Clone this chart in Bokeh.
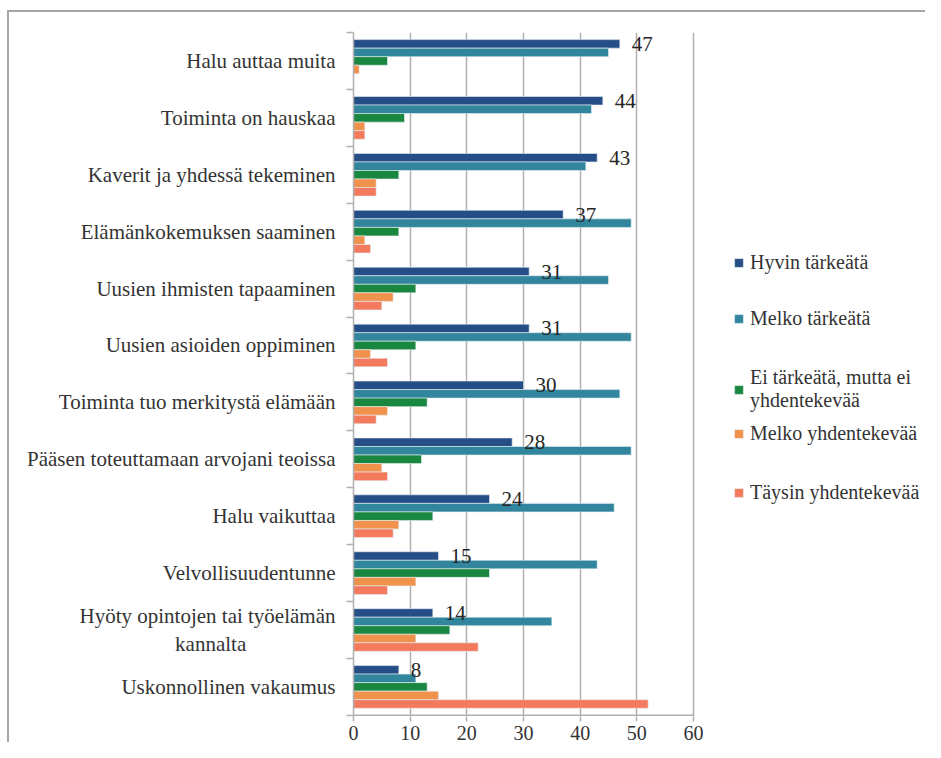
from bokeh.plotting import figure
from bokeh.models import Range1d, FixedTicker, Legend, LegendItem
from bokeh.core.properties import value
from bokeh.embed import file_html
from bokeh.resources import INLINE

categories = [
    "Halu auttaa muita",
    "Toiminta on hauskaa",
    "Kaverit ja yhdessä tekeminen",
    "Elämänkokemuksen saaminen",
    "Uusien ihmisten tapaaminen",
    "Uusien asioiden oppiminen",
    "Toiminta tuo merkitystä elämään",
    "Pääsen toteuttamaan arvojani teoissa",
    "Halu vaikuttaa",
    "Velvollisuudentunne",
    "Hyöty opintojen tai työelämän\nkannalta" + "\u00a0" * 17,
    "Uskonnollinen vakaumus",
]
hyvin = [47, 44, 43, 37, 31, 31, 30, 28, 24, 15, 14, 8]
melko = [45, 42, 41, 49, 45, 49, 47, 49, 46, 43, 35, 11]
ei_tarkea = [6, 9, 8, 8, 11, 11, 13, 12, 14, 24, 17, 13]
melko_yhd = [1, 2, 4, 2, 7, 3, 6, 5, 8, 11, 11, 15]
taysin_yhd = [0, 2, 4, 3, 5, 6, 4, 6, 7, 6, 22, 52]
series_names = ["Hyvin tärkeätä", "Melko tärkeätä", "Ei tärkeätä, mutta ei\nyhdentekevää",
                "Melko yhdentekevää", "Täysin yhdentekevää"]
x_ticks = [0, 10, 20, 30, 40, 50, 60]

colors = ["#264E86", "#31859C", "#1A8741", "#F0914C", "#F37A5C"]
FONT = "Liberation Serif"
TXT = "#333333"
GRID = "#B0B0B0"
BORDER = "#A6A6A6"

W, H = 925, 742
LEFT, TOP, BOTTOM = 353, 32, 26
AXIS_PX = 340  # pixel length of 0..60
x_end = x_ticks[-1] * (W - LEFT) / AXIS_PX

n = len(categories)
centers = [n - 1 - i for i in range(n)]  # top category highest
y_start = -0.5 - 0.02

p = figure(width=W, height=H, output_backend="svg", toolbar_location=None,
           x_range=Range1d(0, x_end), y_range=Range1d(y_start, n - 0.5),
           min_border_left=LEFT, min_border_right=0, min_border_top=TOP, min_border_bottom=BOTTOM)
p.outline_line_color = None
p.border_fill_color = None
p.background_fill_color = "white"
p.ygrid.grid_line_color = None
p.xgrid.grid_line_color = GRID
p.xgrid.grid_line_width = 1.5
# surrounding chart box (top and left edges), drawn behind the transparent canvas border area
p.styles = {
    "background-color": "white",
    "background-image": f"linear-gradient({BORDER},{BORDER}), linear-gradient({BORDER},{BORDER})",
    "background-size": "100% 2px, 2px 100%",
    "background-position": "7px 10px, 7px 10px",
    "background-repeat": "no-repeat",
}

# bottom axis line from 0 to 60 only
p.line(x=[x_ticks[0], x_ticks[-1]], y=[-0.5, -0.5], line_color=GRID, line_width=1.5)

offsets = [0.3, 0.15, 0.0, -0.15, -0.3]
all_series = [hyvin, melko, ei_tarkea, melko_yhd, taysin_yhd]
renderers = []
for vals, off, col in zip(all_series, offsets, colors):
    r = p.hbar(y=[c + off for c in centers], right=vals, left=0, height=0.15,
               fill_color=col, line_color="#E8EEF5", line_width=0.6)
    renderers.append(r)

p.text(x=hyvin, y=[c + 0.3 for c in centers], text=[str(v) for v in hyvin],
       x_offset=12, text_baseline="middle", text_align="left",
       text_font=value(FONT), text_font_size="21px", text_color="#262626")

# axes
p.xaxis.ticker = FixedTicker(ticks=x_ticks)
p.xaxis.axis_line_color = None
p.xaxis.major_tick_line_color = GRID
p.xaxis.major_tick_line_width = 1.5
p.xaxis.major_tick_out = 5
p.xaxis.major_tick_in = 0
p.xaxis.minor_tick_line_color = None
p.xaxis.major_label_standoff = 4
p.xaxis.major_label_text_font = FONT
p.xaxis.major_label_text_font_size = "20px"
p.xaxis.major_label_text_color = TXT

p.yaxis.ticker = FixedTicker(ticks=centers, minor_ticks=[i - 0.5 for i in range(n + 1)])
p.yaxis.major_label_overrides = {c: lab for c, lab in zip(centers, categories)}
p.yaxis.axis_line_color = GRID
p.yaxis.axis_line_width = 1.5
p.yaxis.major_tick_line_color = None
p.yaxis.major_tick_out = 0
p.yaxis.major_tick_in = 0
p.yaxis.minor_tick_line_color = GRID
p.yaxis.minor_tick_line_width = 1.5
p.yaxis.minor_tick_out = 7
p.yaxis.minor_tick_in = 0
p.yaxis.major_label_standoff = 11
p.yaxis.major_label_text_font = FONT
p.yaxis.major_label_text_font_size = "21px"
p.yaxis.major_label_text_color = TXT

# one legend per entry so that each entry sits where the reference has it
legend_y = [442, 386, 304, 271, 212]  # px above the frame bottom
for nm, r, ly in zip(series_names, renderers, legend_y):
    lg = Legend(items=[LegendItem(label=nm, renderers=[r])], location=(380, ly),
                orientation="vertical")
    lg.margin = 0
    lg.padding = 0
    lg.border_line_color = None
    lg.background_fill_alpha = 0
    lg.glyph_width = 11
    lg.glyph_height = 11
    lg.label_standoff = 6
    lg.label_height = 20
    lg.spacing = 0
    lg.label_text_font = FONT
    lg.label_text_font_size = "20px"
    lg.label_text_color = TXT
    p.add_layout(lg, "center")

open("out.html", "w").write(file_html(p, INLINE))
